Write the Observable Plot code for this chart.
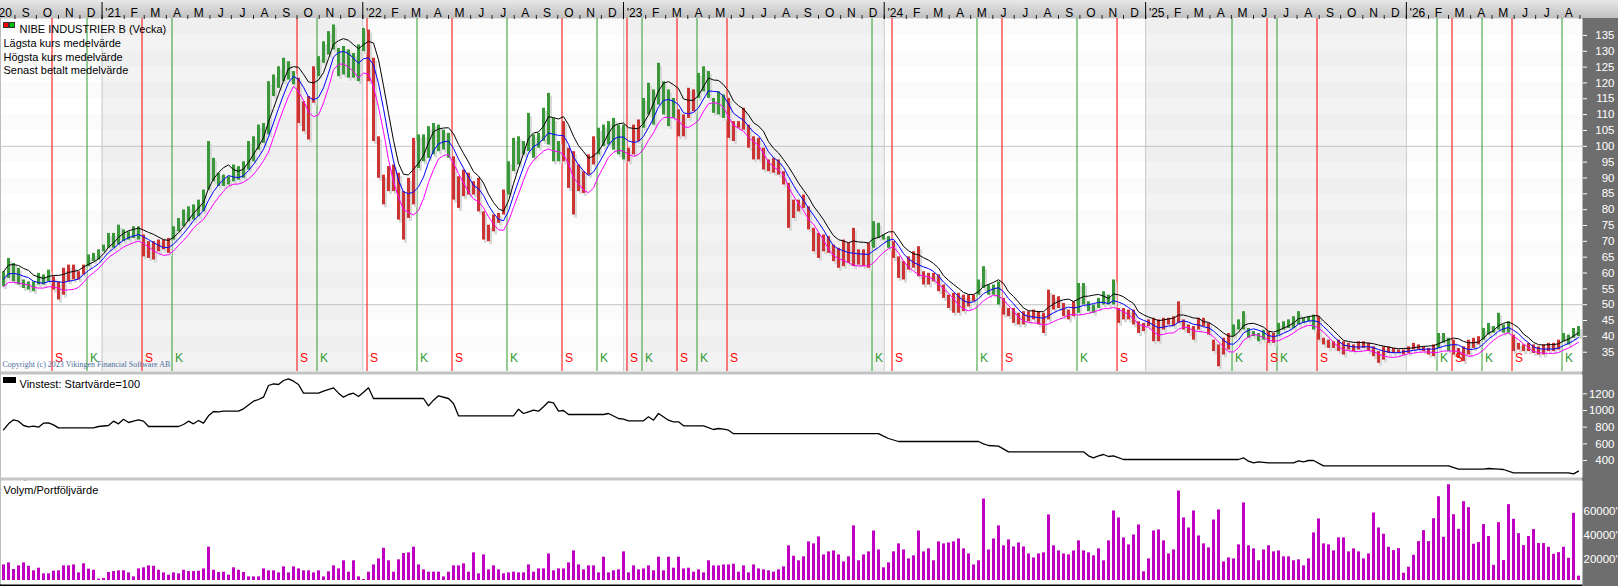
<!DOCTYPE html>
<html><head><meta charset="utf-8">
<script src="https://cdn.jsdelivr.net/npm/d3@7"></script>
<script src="https://cdn.jsdelivr.net/npm/@observablehq/plot@0.6"></script>
<style>
html,body{margin:0;padding:0;background:#fff;}
#wrap{position:relative;width:1618px;height:586px;overflow:hidden;background:#c6c6c6;font-family:"Liberation Sans",Arial,sans-serif;}
.abs{position:absolute;}
</style></head><body>
<div id="wrap">
  <div class="abs" style="left:0;top:0;width:1618px;height:18px;background:linear-gradient(#e8e8e8,#c0c0c0);"></div>
  <div class="abs" style="left:1582px;top:18px;width:36px;height:568px;background:#6e6e6e;"></div>
  <div class="abs" style="left:0;top:584px;width:1582px;height:2px;background:#000;"></div>
  <div id="p1" class="abs" style="left:0;top:0"></div>
  <div id="p2" class="abs" style="left:0;top:371px"></div>
  <div id="p3" class="abs" style="left:0;top:477px"></div>
  <div class="abs" style="left:0;top:18px;width:1px;height:566px;background:#bdbdbd;"></div>
  <div class="abs" style="left:3px;top:22px;width:6px;height:6px;background:#ff0000;border:1px solid #333;box-sizing:border-box;"></div>
  <div class="abs" style="left:9px;top:22px;width:6px;height:6px;background:#00c000;border:1px solid #333;box-sizing:border-box;"></div>
  <div class="abs" style="left:3px;top:377px;width:13px;height:6px;background:#000;"></div>
</div>
<script>
// ---- data (weekly, week index 0 = 2020-08-16) ----
const weekHigh = [
60.4,64.6,63.0,61.5,57.8,57.2,57.2,59.9,59.4,60.9,
58.8,57.2,61.5,62.5,62.5,60.4,62.5,65.7,66.2,67.3,
68.8,72.5,72.5,75.1,73.6,73.0,74.6,74.6,72.0,69.9,
69.9,70.4,70.4,70.9,74.6,77.2,79.9,80.9,81.5,83.0,
86.2,101.5,96.2,91.5,90.9,90.4,94.1,93.6,95.1,101.5,
103.0,106.7,107.2,120.4,122.5,125.1,127.8,126.7,123.6,121.5,
114.1,115.7,125.1,128.3,133.0,136.2,138.3,130.9,131.5,130.4,
129.3,132.0,137.2,136.7,127.8,103.0,90.9,93.6,94.1,91.5,
85.7,89.9,102.5,103.6,103.6,106.2,107.2,106.7,105.1,104.1,
96.7,90.4,92.5,91.5,88.8,89.9,79.3,75.1,78.3,78.8,
86.2,95.1,102.5,103.0,101.5,110.4,103.6,104.1,112.0,116.7,
108.8,101.5,107.8,99.4,98.3,94.1,92.0,97.3,103.0,105.7,
106.7,107.8,108.8,106.7,106.7,99.4,106.7,108.3,115.1,119.9,
117.8,126.2,120.4,117.8,115.1,111.5,109.9,118.3,117.8,123.0,
125.1,123.6,115.1,117.2,116.2,115.1,107.8,107.8,112.0,106.7,
103.0,102.5,99.4,95.7,96.2,95.7,92.0,88.3,83.0,83.0,
84.6,80.9,74.1,72.5,72.0,71.5,68.8,67.8,70.4,69.4,
74.1,67.3,67.3,69.4,76.2,75.7,72.0,71.5,69.9,65.1,
63.6,65.1,66.7,68.3,60.4,59.9,59.9,59.4,56.2,53.0,
53.6,53.6,53.0,53.0,53.0,57.8,62.0,56.2,56.2,57.2,
52.0,48.8,48.8,47.3,47.8,47.8,48.3,47.8,47.3,54.6,
53.0,52.5,50.4,48.3,50.9,56.7,56.7,50.9,49.9,52.0,
54.1,53.0,57.8,48.8,48.8,48.3,48.3,44.6,44.1,45.2,
45.7,45.2,45.7,45.7,46.2,50.9,45.2,43.6,43.1,45.7,
45.7,44.1,38.8,37.3,39.4,40.9,43.6,45.2,47.8,42.5,
41.5,40.9,41.9,41.5,40.9,44.1,44.6,45.2,46.2,47.8,
45.7,46.2,46.7,46.2,39.4,38.8,38.3,38.8,38.3,37.8,
37.3,38.3,38.3,37.8,36.7,35.2,36.7,36.7,36.2,35.7,
35.7,36.7,37.8,37.3,36.7,36.2,37.3,40.9,40.9,39.4,
38.8,36.2,36.7,38.8,39.4,39.9,42.5,44.1,43.1,47.3,
43.6,44.6,40.4,37.8,37.3,37.8,37.3,36.7,37.3,37.8,
37.8,38.8,40.9,40.4,42.5,43.1];
const weekLow = [
55.7,58.3,57.2,56.2,55.1,54.6,54.1,56.2,56.2,57.2,
54.6,51.5,53.0,57.2,57.8,57.8,59.4,62.0,63.6,64.1,
66.7,67.8,67.8,68.8,69.9,70.4,70.9,70.4,65.1,64.6,
64.1,66.7,67.3,66.2,70.4,73.0,74.6,76.2,76.7,77.8,
79.3,86.2,88.8,87.3,87.3,87.8,88.8,89.3,89.9,92.5,
95.1,98.8,100.9,103.6,115.7,118.3,120.4,120.9,119.4,107.2,
104.6,102.0,113.6,122.0,126.2,128.8,130.4,122.0,122.5,121.5,
121.5,120.4,129.9,120.4,101.5,89.9,81.5,85.7,85.7,76.7,
70.4,77.2,81.5,93.0,95.1,96.2,97.3,98.3,98.8,96.2,
83.0,80.4,84.1,84.6,84.6,79.3,70.4,69.9,73.0,75.7,
78.3,84.6,92.0,94.1,97.3,98.3,96.2,99.4,101.5,100.4,
95.1,95.1,95.1,86.7,78.3,85.7,85.1,90.9,94.1,97.3,
99.9,100.4,98.8,97.3,95.7,95.1,97.3,101.5,105.7,109.9,
106.7,113.0,109.9,106.2,108.8,103.0,103.0,108.8,110.9,115.1,
117.2,115.1,110.4,109.9,108.8,102.5,101.5,105.7,105.1,99.4,
95.7,95.7,92.5,92.0,91.5,90.9,87.8,74.1,77.2,79.3,
80.4,73.6,66.7,64.6,66.7,66.2,63.6,61.5,62.0,63.0,
62.0,62.5,62.0,61.5,67.8,70.9,70.4,67.8,64.6,58.3,
57.8,60.9,61.5,58.8,56.2,56.2,57.2,54.1,52.0,48.8,
47.3,47.3,47.8,49.3,50.9,53.0,55.1,53.0,53.0,49.9,
46.7,46.2,44.1,43.6,43.6,44.6,45.2,43.6,40.9,45.2,
48.3,48.8,46.2,45.2,46.2,47.3,49.9,47.8,47.3,48.8,
49.9,49.9,49.9,44.1,45.2,45.2,43.6,40.9,41.5,43.1,
38.3,38.3,42.0,43.6,43.1,44.1,42.0,40.9,38.8,42.0,
43.1,40.4,35.2,30.4,34.1,35.7,39.9,42.0,42.0,39.4,
39.9,38.3,38.8,37.8,37.8,40.4,42.0,42.5,42.5,43.6,
44.1,44.6,42.0,38.8,37.3,36.2,36.2,35.2,34.1,35.7,
35.2,35.7,36.2,35.2,33.6,31.5,32.5,34.6,34.6,34.6,
34.1,34.6,35.7,35.7,35.2,34.1,33.6,36.2,37.8,35.2,
34.1,33.1,32.0,34.1,36.2,37.3,38.8,40.4,41.0,42.0,
41.0,41.0,35.2,35.7,35.2,35.2,34.6,34.1,34.1,35.2,
35.2,35.7,38.3,37.3,39.4,39.9];
const volumeThousands = [
12.9,14.6,9.1,12.1,14.6,11.8,8.0,10.2,5.5,5.5,
7.7,8.0,12.1,12.1,12.9,6.3,13.8,9.4,8.5,1.1,
1.7,6.6,7.4,8.0,8.0,6.3,3.0,9.6,10.5,12.1,
11.8,8.5,6.3,4.4,6.3,5.5,8.5,7.4,7.4,7.7,
9.6,27.6,8.5,6.6,6.9,4.4,10.5,8.5,6.6,3.0,
3.0,3.0,9.6,8.0,8.0,6.3,11.3,6.3,11.3,9.6,
8.0,8.0,6.3,8.0,3.0,7.2,12.1,9.6,16.3,6.9,
16.3,3.0,0.8,6.9,12.9,17.9,26.7,16.3,6.9,17.1,
22.3,22.9,27.6,12.9,8.8,6.9,6.9,6.9,3.0,6.9,
12.1,12.1,13.8,6.9,22.9,5.5,21.2,8.8,12.1,8.8,
5.5,6.3,6.9,6.3,6.3,12.9,6.9,9.6,9.6,22.0,
8.0,9.6,9.6,14.6,24.5,12.9,8.8,12.1,12.1,6.3,
19.3,6.3,8.0,8.8,23.7,6.3,12.1,8.8,9.6,12.1,
8.0,19.3,8.0,19.3,10.2,19.3,9.6,10.2,6.9,8.8,
6.3,16.3,12.1,12.1,12.9,12.9,13.5,6.9,12.1,6.3,
12.9,9.6,8.8,8.0,6.9,8.8,11.3,28.7,20.1,16.3,
19.6,32.0,30.3,36.1,21.2,23.7,24.5,21.2,15.4,19.6,
45.2,16.3,21.2,23.7,41.0,25.3,10.5,14.6,23.7,30.3,
25.3,17.9,20.4,41.0,23.7,26.2,16.3,32.0,30.3,31.1,
32.0,34.4,26.2,22.0,12.9,16.3,67.5,25.3,34.4,45.2,
28.7,33.6,27.8,31.1,27.8,22.0,18.7,22.0,22.9,54.3,
28.7,24.5,22.0,21.2,24.5,32.8,24.5,22.9,20.4,26.2,
16.3,32.8,57.6,51.8,35.3,29.5,37.7,46.0,7.2,17.9,
41.0,41.9,32.8,22.0,25.3,74.1,51.8,43.5,57.6,36.9,
30.3,27.0,50.1,58.4,15.4,18.7,17.9,29.5,64.2,28.7,
26.2,16.3,25.3,28.7,23.7,24.5,19.6,19.6,16.3,17.1,
12.1,17.9,39.4,51.0,30.3,29.5,24.5,35.3,35.3,23.7,
26.2,23.7,17.9,22.0,55.9,43.5,38.3,27.5,24.8,26.4,
6.0,11.0,20.9,32.2,41.3,32.2,51.2,69.4,35.8,79.3,
54.5,42.4,65.3,60.3,30.0,31.4,46.3,36.4,12.6,47.9,
16.5,62.8,50.7,38.8,28.9,36.4,42.2,30.6,30.6,27.5,
21.7,23.1,27.5,18.4,55.6,3.6];
const signalWeek = [10,17,28,34,59,63,73,83,90,101,112,119,125,128,135,139,145,174,178,195,200,215,223,246,253,255,263,287,290,296,302,312];
const signalType = signalWeek.map((_, k) => (k % 2 === 0 ? "S" : "K"));
const vinstWeek = [0,1,2,3,4,5,6,7,8,9,10,11,18,19,21,22,23,24,25,26,27,28,29,35,36,37,38,39,40,41,42,43,44,47,48,50,51,52,53,54,55,56,57,58,59,60,63,64,66,67,68,69,70,71,72,73,74,84,85,86,87,89,90,91,102,103,104,105,106,107,108,109,110,111,112,113,120,121,123,124,125,128,129,130,131,133,134,135,136,140,142,143,144,145,146,175,176,177,179,195,196,197,199,201,216,217,218,219,220,221,222,224,247,248,249,250,251,253,258,259,260,261,262,264,289,291,296,297,299,300,302,313,314,315];
const vinstValue = [768,840,888,872,820,804,812,800,848,852,828,792,792,808,820,872,840,896,856,872,888,872,808,808,832,872,840,880,848,936,988,984,992,992,1020,1112,1132,1160,1300,1320,1312,1360,1380,1352,1312,1208,1208,1232,1272,1208,1160,1192,1208,1168,1220,1272,1144,1144,1056,1124,1176,1144,1084,936,936,1016,964,984,1004,992,1044,1104,1092,992,1000,952,952,964,904,896,876,876,924,884,964,884,864,864,816,816,772,784,776,764,722,722,692,664,628,628,600,580,572,504,504,456,432,456,472,448,456,412,412,432,392,372,384,372,372,396,384,400,400,336,336,296,296,304,296,292,252,252,240,272];
const priceTicks = [35,40,45,50,55,60,65,70,75,80,85,90,95,100,105,110,115,120,125,130,135];
const vinstTicks = [400,600,800,1000,1200];
const volumeTicks = [20000,40000,60000];
const monthInitials = ["J","F","M","A","M","J","J","A","S","O","N","D"];
const gridValues = [50,100];
const shadedYears = [2021,2023,2025];
const allYears = [2021,2022,2023,2024,2025,2026];

// ---- layout helpers ----
const DAY = 864e5;
const D0 = Date.UTC(2020,7,16);
const weekDate = i => new Date(D0 + i*7*DAY);
const xDomain = [new Date(D0 - 4.2*DAY), new Date(D0 + 2210.6*DAY)];
const GREEN = "#3a983a", RED = "#cc3333";
const font = "'Liberation Sans', Arial, sans-serif";

const regimeAt = i => { let t = "K"; for (let k = 0; k < signalWeek.length; k++) if (signalWeek[k] <= i) t = signalType[k]; return t; };
const bars = weekHigh.map((h, i) => ({date: weekDate(i), hi: h, lo: weekLow[i], mid: (h + weekLow[i]) / 2, color: regimeAt(i) === "K" ? GREEN : RED}));
const signals = signalWeek.map((w, k) => ({date: weekDate(w), type: signalType[k], color: signalType[k] === "K" ? "#2f9a2f" : "#ff0000"}));
const vinst = vinstWeek.map((w, k) => ({date: weekDate(w), value: vinstValue[k]}));
const volume = volumeThousands.map((v, i) => ({date: weekDate(i), vol: v * 1000}));
const yearStarts = allYears.map(y => new Date(Date.UTC(y,0,1)));
const shaded = shadedYears.map(y => ({start: new Date(Date.UTC(y,0,1)), end: new Date(Date.UTC(y+1,0,1))}));
const bandLows = d3.range(25, 140, 10);
const monthStarts = d3.utcMonth.range(new Date(Date.UTC(2020,8,1)), new Date(Date.UTC(2026,8,2)));
const monthLabels = d3.utcMonth.range(new Date(Date.UTC(2020,8,1)), new Date(Date.UTC(2026,8,1))).map(m => {
  const n = d3.utcMonth.offset(m, 1);
  return {date: new Date((+m + +n) / 2), label: m.getUTCMonth() === 0 ? "'" + String(m.getUTCFullYear()).slice(2) : monthInitials[m.getUTCMonth()]};
});

const baseStyle = {background: "transparent", fontFamily: font, fontSize: "11px", overflow: "visible", color: "#000"};

const p1 = Plot.plot({
  width: 1618, height: 371, marginTop: 18, marginBottom: 0, marginLeft: 0, marginRight: 36,
  style: baseStyle,
  x: {type: "utc", domain: xDomain},
  y: {domain: [28.91, 140.34]},
  marks: [
    Plot.frame({fill: "#ffffff", stroke: "none"}),
    Plot.rect(shaded, {x1: "start", x2: "end", fill: "#f3f3f3"}),
    Plot.rect(bandLows, {y1: d => d, y2: d => d + 5, fill: "#000", fillOpacity: 0.015}),
    Plot.ruleX(yearStarts, {stroke: "#c8c8c8"}),
    Plot.ruleY(gridValues, {stroke: "#c4c4c4"}),
    Plot.ruleX(signals, {x: "date", stroke: "color", dx: -1.5, strokeWidth: 1}),
    Plot.ruleX(bars, {x: "date", y1: "lo", y2: "hi", stroke: "#d9d9d9", strokeWidth: 3, dx: 2, dy: 3}),
    Plot.ruleX(bars, {x: "date", y1: "lo", y2: "hi", stroke: "color", strokeWidth: 3}),
    Plot.lineY(bars, Plot.windowY({k: 5, anchor: "end"}, {x: "date", y: "lo", stroke: "#ff00ff", strokeWidth: 1})),
    Plot.lineY(bars, Plot.windowY({k: 5, anchor: "end"}, {x: "date", y: "mid", stroke: "#0000ff", strokeWidth: 1})),
    Plot.lineY(bars, Plot.windowY({k: 5, anchor: "end"}, {x: "date", y: "hi", stroke: "#000000", strokeWidth: 1})),
    Plot.text(signals, {x: "date", text: "type", fill: "color", frameAnchor: "bottom", textAnchor: "start", dx: 1.5, dy: -10, fontSize: 12}),
    Plot.text(["NIBE INDUSTRIER B (Vecka)"], {text: d => d, frameAnchor: "top-left", textAnchor: "start", dx: 19, dy: 7, fontSize: 11}),
    Plot.text(["Lägsta kurs medelvärde"], {text: d => d, frameAnchor: "top-left", textAnchor: "start", dx: 3, dy: 21, fontSize: 11}),
    Plot.text(["Högsta kurs medelvärde"], {text: d => d, frameAnchor: "top-left", textAnchor: "start", dx: 3, dy: 34.5, fontSize: 11}),
    Plot.text(["Senast betalt medelvärde"], {text: d => d, frameAnchor: "top-left", textAnchor: "start", dx: 3, dy: 47.5, fontSize: 11}),
    Plot.text(["Copyright (c) 2023 Vikingen Financial Software AB"], {text: d => d, frameAnchor: "bottom-left", textAnchor: "start", dx: 2, dy: -5, fontSize: 8, fontFamily: "'Liberation Serif', serif", fill: "#4d6d9d"}),
    Plot.axisX({anchor: "top", ticks: monthStarts, tickSize: 4, tickFormat: () => "", color: "#222", label: null}),
    Plot.axisX({anchor: "top", ticks: yearStarts, tickSize: 17, tickFormat: () => "", color: "#000", label: null}),
    Plot.text(monthLabels, {x: "date", text: "label", frameAnchor: "top", dy: -10, fontSize: 12, fill: "#000"}),
    Plot.text([{date: new Date(Date.UTC(2020,8,1)), label: "'20"}], {x: "date", text: "label", frameAnchor: "top", textAnchor: "end", dx: -3, dy: -10, fontSize: 12, fill: "#000"}),
    Plot.axisY({anchor: "right", ticks: priceTicks, tickSize: 4, tickFormat: () => "", color: "#fff", label: null}),
    Plot.text(priceTicks, {y: d => d, text: d => String(d), frameAnchor: "right", textAnchor: "end", dx: 32, fill: "#fff", fontSize: 11.5})
  ]
});
document.getElementById("p1").appendChild(p1);

const p2 = Plot.plot({
  width: 1618, height: 106, marginTop: 3, marginBottom: 0, marginLeft: 0, marginRight: 36,
  style: baseStyle,
  x: {type: "utc", domain: xDomain, axis: null},
  y: {domain: [196, 1432]},
  marks: [
    Plot.frame({fill: "#ffffff", stroke: "none"}),
    Plot.line(vinst, {x: "date", y: "value", stroke: "#000", strokeWidth: 1.3}),
    Plot.text(["Vinstest: Startvärde=100"], {text: d => d, frameAnchor: "top-left", textAnchor: "start", dx: 19, dy: 6, fontSize: 11}),
    Plot.axisY({anchor: "right", ticks: vinstTicks, tickSize: 4, tickFormat: () => "", color: "#fff", label: null}),
    Plot.text(vinstTicks, {y: d => d, text: d => String(d), frameAnchor: "right", textAnchor: "end", dx: 32, fill: "#fff", fontSize: 11.5})
  ]
});
document.getElementById("p2").appendChild(p2);

const p3 = Plot.plot({
  width: 1618, height: 109, marginTop: 3, marginBottom: 2, marginLeft: 0, marginRight: 36,
  style: baseStyle,
  x: {type: "utc", domain: xDomain, axis: null},
  y: {domain: [-3313, 82816]},
  marks: [
    Plot.frame({fill: "#ffffff", stroke: "none"}),
    Plot.ruleX(volume, {x: "date", y1: 0, y2: "vol", stroke: "#c000c0", strokeWidth: 3}),
    Plot.text(["Volym/Portföljvärde"], {text: d => d, frameAnchor: "top-left", textAnchor: "start", dx: 3, dy: 6, fontSize: 11}),
    Plot.text(volumeTicks, {y: d => d, text: d => d + "'", frameAnchor: "right", textAnchor: "start", dx: 1, dy: 3, fill: "#fff", fontSize: 11.5})
  ]
});
document.getElementById("p3").appendChild(p3);
</script>
</body></html>
